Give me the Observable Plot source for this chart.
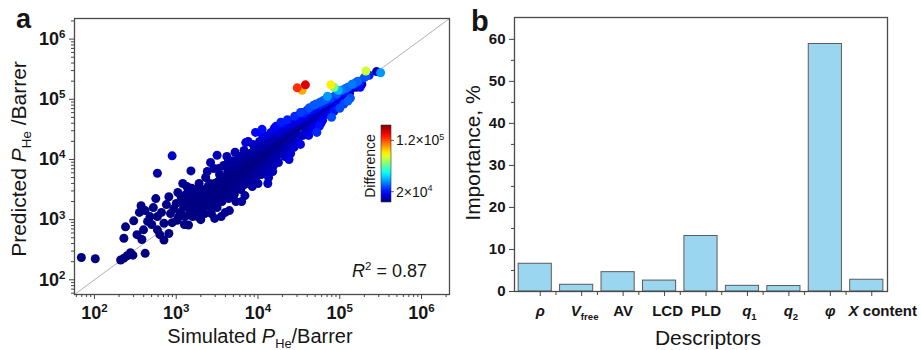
<!DOCTYPE html>
<html><head><meta charset="utf-8">
<script src="https://cdn.jsdelivr.net/npm/d3@7"></script>
<script src="https://cdn.jsdelivr.net/npm/@observablehq/plot@0.6"></script>
<style>
html,body{margin:0;padding:0;background:#fff;}
#wrap{position:relative;width:921px;height:350px;overflow:hidden;}
</style></head><body><div id="wrap"></div>
<script>
const FONT = '"Liberation Sans", Arial, Helvetica, sans-serif';

// ---------- data: panel a (log10 of simulated, log10 of predicted He permeability, Barrer) ----------
const axisDomain = [57, 2.2e6];
const decades = [2, 3, 4, 5, 6];
const scatterLog = [
 [1.84,2.37],[2.01,2.35],[2.32,2.33],[2.36,2.36],[2.40,2.40],[2.47,2.41],[2.62,2.44],[2.44,2.45],
 [2.38,2.88],[2.36,2.69],[2.48,2.98],[2.52,2.75],[2.58,2.67],[2.60,2.83],[2.65,2.97],[2.57,3.23],
 [2.62,3.15],[2.68,3.05],[2.75,3.35],[2.72,3.20],[2.77,3.05],[2.77,2.83],[2.80,2.75],[2.85,2.66],
 [2.85,2.94],[2.91,2.77],[2.93,3.10],[2.91,3.38],[2.77,3.77],[2.95,4.06],[2.88,3.25],[2.82,3.12],
 [2.70,2.92],[2.95,2.95],[2.55,3.12],
 [3.00,3.27],[3.01,2.99],[3.05,3.12],[3.07,3.30],[3.10,2.92],[3.12,3.42],[3.15,2.91],[3.16,3.20],
 [3.18,3.81],[3.20,3.05],[3.22,3.35],[3.24,3.50],[3.25,3.15],[3.27,3.27],[3.28,3.60],[3.30,3.00],
 [3.30,3.42],[3.02,3.45],[3.08,3.60],[3.13,3.55],[3.18,3.40],[3.26,3.05],[3.20,3.25],
 [2.97,3.18],[3.03,3.05],[3.06,3.38],[3.09,3.20],[3.11,3.05],[3.14,3.30],[3.17,3.12],[3.19,3.52],
 [3.21,3.18],[3.23,3.42],[3.26,3.35],[3.29,3.18],[3.29,3.50],
 [3.32,3.15],[3.34,3.33],[3.35,3.50],[3.36,3.70],[3.38,3.25],[3.40,3.42],[3.41,3.60],[3.43,3.10],
 [3.44,3.30],[3.45,3.52],[3.46,3.85],[3.48,3.40],[3.50,3.20],[3.50,3.62],[3.52,3.35],[3.53,3.75],
 [3.55,3.48],[3.56,3.30],[3.57,3.60],[3.58,3.90],[3.60,3.42],[3.60,3.12],[3.42,3.95],[3.47,3.02],
 [3.55,3.05],[3.50,4.07],[3.62,4.05],
 [3.31,3.28],[3.33,3.45],[3.35,3.10],[3.37,3.38],[3.39,3.55],[3.41,3.22],[3.43,3.47],[3.45,3.38],
 [3.47,3.60],[3.49,3.28],[3.51,3.50],[3.53,3.42],[3.54,3.65],[3.56,3.55],[3.58,3.38],[3.59,3.70],
 [3.38,3.80],[3.52,3.85],
 [3.62,3.70],[3.63,3.55],[3.64,3.35],[3.66,3.82],[3.67,3.60],[3.68,3.45],[3.70,3.98],[3.70,3.70],
 [3.72,3.50],[3.73,3.30],[3.74,3.85],[3.75,3.62],[3.77,4.05],[3.78,3.75],[3.79,3.50],[3.80,3.88],
 [3.82,3.65],[3.83,4.15],[3.84,3.40],[3.85,3.80],[3.87,3.95],[3.88,3.60],[3.90,4.10],[3.90,3.75],
 [3.65,3.15],[3.80,3.30],[3.72,4.12],[3.85,4.28],[3.88,4.30],
 [3.61,3.55],[3.63,3.80],[3.65,3.48],[3.66,3.65],[3.68,3.90],[3.69,3.58],[3.71,3.42],[3.72,3.78],
 [3.74,3.68],[3.75,3.95],[3.76,3.52],[3.77,3.85],[3.79,3.68],[3.80,4.00],[3.81,3.78],[3.83,3.58],
 [3.84,3.92],[3.86,3.70],[3.87,4.08],[3.89,3.85],[3.64,3.98],
 [3.92,3.90],[3.93,3.55],[3.94,4.25],[3.95,4.00],[3.96,3.70],[3.98,4.15],[3.99,3.85],[4.00,3.60],
 [4.02,4.30],[4.03,4.05],[4.04,3.75],[4.06,3.95],[4.07,4.20],[4.08,4.40],[4.10,3.85],[4.10,4.10],
 [4.12,4.30],[4.13,3.70],[4.15,4.00],[4.16,4.45],[4.17,4.20],[4.19,3.90],[4.20,4.10],[4.20,4.35],
 [4.05,4.50],[3.97,4.45],[4.12,3.60],[4.18,3.80],
 [3.91,3.65],[3.92,4.05],[3.94,3.80],[3.95,4.15],[3.97,3.95],[3.98,3.72],[4.00,4.08],[4.01,3.90],
 [4.02,4.20],[4.04,3.85],[4.05,4.12],[4.07,3.98],[4.08,4.28],[4.09,3.78],[4.11,4.20],[4.12,3.95],
 [4.14,4.12],[4.15,4.35],[4.16,3.85],[4.18,4.05],[4.19,4.25],[4.21,4.00],[4.20,4.52],[4.05,4.42],
 [4.22,4.55],[4.23,4.25],[4.25,3.95],[4.26,4.40],[4.28,4.15],[4.30,4.60],[4.31,4.35],[4.33,4.05],
 [4.34,4.50],[4.36,4.66],[4.37,4.25],[4.39,4.45],[4.40,4.10],[4.42,4.60],[4.43,4.35],[4.45,4.72],
 [4.46,4.25],[4.47,4.50],[4.49,4.65],[4.50,4.40],[4.28,4.62],[4.44,4.20],[4.52,4.25],[4.38,4.00],
 [4.22,4.18],[4.24,4.45],[4.25,4.08],[4.27,4.30],[4.29,4.50],[4.30,4.20],[4.32,4.42],[4.33,4.15],
 [4.35,4.58],[4.36,4.35],[4.38,4.18],[4.40,4.50],[4.41,4.30],[4.43,4.62],[4.44,4.45],[4.46,4.35],
 [4.48,4.58],[4.49,4.30],[4.50,4.68],
 [4.52,4.78],[4.54,4.55],[4.55,4.78],[4.57,4.70],[4.58,4.45],[4.60,4.82],[4.62,4.60],[4.63,4.86],
 [4.65,4.75],[4.66,4.50],[4.68,4.90],[4.70,4.65],[4.71,4.92],[4.73,4.80],[4.75,4.55],[4.76,4.95],
 [4.78,4.70],[4.80,4.98],[4.80,4.85],[4.62,4.40],[4.72,4.45],[4.77,4.60],
 [4.53,4.62],[4.55,4.40],[4.56,4.75],[4.58,4.58],[4.60,4.68],[4.61,4.50],[4.63,4.72],[4.64,4.62],
 [4.66,4.82],[4.67,4.58],[4.69,4.75],[4.70,4.55],[4.72,4.85],[4.74,4.68],[4.75,4.90],[4.77,4.78],
 [4.79,4.65],[4.80,4.92],
 [4.82,4.95],[4.85,5.05],[4.85,4.75],[4.87,4.98],[4.88,4.90],[4.90,5.02],[4.92,4.85],[4.94,5.05],
 [4.96,5.08],[4.97,4.95],[4.98,5.15],[5.00,5.05],[5.02,5.15],[5.03,4.95],[5.05,5.12],[5.07,5.18],
 [5.08,5.05],[5.10,5.20],[4.90,4.70],[5.00,4.85],[5.05,4.92],[5.10,4.97],[5.13,5.02],[4.98,4.88],
 [4.82,4.80],[4.83,5.00],[4.86,4.88],[4.88,5.02],[4.91,4.95],[4.93,4.80],[4.95,5.00],[4.97,5.10],
 [4.99,4.95],[5.01,5.08],[5.04,5.02],[5.06,5.14],[5.09,5.10],[5.11,5.15],[5.14,5.18],[5.18,5.22],
 [5.20,5.28],
 [5.12,5.10],[5.15,5.25],[5.17,5.25],[5.20,5.20],[5.22,5.30],[5.25,5.30],[5.27,5.25],[5.30,5.36],
 [5.32,5.38],[5.36,5.40],[5.45,5.46],[5.25,5.20],
 [4.48,5.19],[4.58,5.24],[4.54,5.15],[4.89,5.24],[4.93,5.20],[5.32,5.47],[5.50,5.44]
];
const colorDomain = [0, 1.5e5];
const colorbarTicks = [1.2e5, 2e4];
const r2Value = "0.87";

// ---------- data: panel b ----------
const descriptors = ["ρ", "Vfree", "AV", "LCD", "PLD", "q1", "q2", "φ", "X content"];
const importance = [6.6, 1.6, 4.6, 2.6, 13.2, 1.35, 1.3, 58.9, 2.8];
const importanceTicks = [0, 10, 20, 30, 40, 50, 60];
const importanceMinor = [5, 15, 25, 35, 45, 55];

// ---------- helpers ----------
const jetStops = d3.scaleLinear()
  .domain([0, 0.125, 0.375, 0.625, 0.875, 1])
  .range(["#00007f", "#0000ff", "#00ffff", "#ffff00", "#ff0000", "#7f0000"])
  .interpolate(d3.interpolateRgb).clamp(true);
const jet = t => jetStops(t);

function rich(node, parts, fs) {
  const t = d3.select(node);
  t.text(null);
  let shift = 0;
  parts.forEach(p => {
    const span = t.append("tspan").text(p.t);
    const target = p.sub ? 0.23 * fs : p.sup ? -0.38 * fs : 0;
    if (target !== shift) { span.attr("dy", (target - shift).toFixed(2)); shift = target; }
    if (p.sub || p.sup) span.attr("font-size", (0.64 * fs).toFixed(1));
    if (p.i) span.attr("font-style", "italic");
  });
}
function addText(svg, {x, y, rotate, size, weight, anchor = "middle", parts}) {
  const t = svg.append("text")
    .attr("transform", `translate(${x},${y})` + (rotate ? ` rotate(${rotate})` : ""))
    .attr("text-anchor", anchor).attr("font-size", size).attr("fill", "#151515")
    .attr("font-family", FONT);
  if (weight) t.attr("font-weight", weight);
  rich(t.node(), parts, size);
  return t;
}

// ---------- panel a ----------
const pts = scatterLog
  .map(([a, b]) => ({sim: 10 ** a, pred: 10 ** b}))
  .map(d => ({...d, diff: Math.abs(d.pred - d.sim)}))
  .sort((p, q) => p.diff - q.diff);
const majors = decades.map(d => 10 ** d);
const minors = [];
for (let e = 1; e <= 6; e++) for (let k = 2; k <= 9; k++) {
  const v = k * 10 ** e;
  if (v >= axisDomain[0] && v <= axisDomain[1]) minors.push(v);
}
const expFmt = d => "10^" + Math.round(Math.log10(d));

const plotA = Plot.plot({
  width: 460, height: 350,
  marginLeft: 74, marginRight: 11, marginTop: 18, marginBottom: 56,
  style: {fontFamily: FONT, color: "#151515", background: "transparent", overflow: "visible"},
  x: {type: "log", domain: axisDomain},
  y: {type: "log", domain: axisDomain},
  color: {type: "linear", domain: colorDomain, interpolate: jet, clamp: true},
  marks: [
    Plot.line(axisDomain.map(v => ({v})), {x: "v", y: "v", stroke: "#9a9a9a", strokeWidth: 0.8}),
    Plot.dot(pts, {x: "sim", y: "pred", fill: "diff", r: 4.5}),
    Plot.frame({stroke: "#4a4a4a", strokeWidth: 1.3}),
    Plot.axisX({ticks: majors, tickSize: 5, tickPadding: 7, tickFormat: expFmt, label: null, stroke: "#444"}),
    Plot.axisX({ticks: minors, tickSize: 3, fill: "none", tickFormat: () => "", label: null, stroke: "#444"}),
    Plot.axisY({ticks: majors, tickSize: 5, tickPadding: 4, tickFormat: expFmt, label: null, stroke: "#444"}),
    Plot.axisY({ticks: minors, tickSize: 3, fill: "none", tickFormat: () => "", label: null, stroke: "#444"})
  ]
});
plotA.style.position = "absolute"; plotA.style.left = "0px"; plotA.style.top = "0px";
const svgA = d3.select(plotA);
svgA.selectAll("text").each(function () {
  const m = /^10\^(\d)$/.exec(this.textContent);
  if (m) {
    d3.select(this).attr("font-weight", "bold").attr("font-size", 18).attr("fill", "#151515");
    rich(this, [{t: "10"}, {t: m[1], sup: true}], 18);
  }
});
addText(svgA, {x: 26, y: 159, rotate: -90, size: 21,
  parts: [{t: "Predicted "}, {t: "P", i: true}, {t: "He", sub: true}, {t: " /Barrer"}]});
addText(svgA, {x: 260, y: 343, size: 20,
  parts: [{t: "Simulated "}, {t: "P", i: true}, {t: "He", sub: true}, {t: "/Barrer"}]});
addText(svgA, {x: 352, y: 277, size: 18, anchor: "start",
  parts: [{t: "R", i: true}, {t: "2", sup: true}, {t: " = " + r2Value}]});
addText(svgA, {x: 16, y: 28, size: 27, weight: "bold", anchor: "start", parts: [{t: "a"}]});

// colorbar (legend of the color scale)
const colorScale = plotA.scale("color");
const cb = {x: 381, y: 125, w: 10, h: 77};
const cbY = d3.scaleLinear().domain(colorDomain).range([cb.y + cb.h, cb.y]);
const grad = svgA.append("defs").append("linearGradient").attr("id", "jetgrad")
  .attr("x1", 0).attr("y1", 1).attr("x2", 0).attr("y2", 0);
d3.range(0, 1.0001, 0.05).forEach(t => {
  const v = colorDomain[0] + t * (colorDomain[1] - colorDomain[0]);
  grad.append("stop").attr("offset", t.toFixed(2)).attr("stop-color", colorScale.apply(v));
});
svgA.append("rect").attr("x", cb.x).attr("y", cb.y).attr("width", cb.w).attr("height", cb.h)
  .attr("fill", "url(#jetgrad)").attr("stroke", "#333").attr("stroke-width", 0.6);
colorbarTicks.forEach(v => {
  svgA.append("line").attr("x1", cb.x + cb.w).attr("x2", cb.x + cb.w + 3)
    .attr("y1", cbY(v)).attr("y2", cbY(v)).attr("stroke", "#333").attr("stroke-width", 0.8);
  const e = Math.floor(Math.log10(v));
  const mant = +(v / 10 ** e).toFixed(2);
  addText(svgA, {x: cb.x + cb.w + 5, y: cbY(v) + 5, size: 14, anchor: "start",
    parts: [{t: mant + "×10"}, {t: String(e), sup: true}]});
});
addText(svgA, {x: 375, y: 166, rotate: -90, size: 14, parts: [{t: "Difference"}]});

// ---------- panel b ----------
const rows = descriptors.map((name, i) => ({i, name, value: importance[i]}));
const plotB = Plot.plot({
  width: 461, height: 350,
  marginLeft: 54, marginRight: 34, marginTop: 17, marginBottom: 59,
  style: {fontFamily: FONT, color: "#151515", background: "transparent", overflow: "visible"},
  x: {type: "linear", domain: [-0.5, descriptors.length - 0.5]},
  y: {domain: [0, 65.2]},
  marks: [
    Plot.rect(rows, {x1: d => d.i - 0.4, x2: d => d.i + 0.4, y1: () => 0, y2: "value",
      fill: "#9bd6f1", stroke: "#5a5a5a", strokeWidth: 1}),
    Plot.frame({stroke: "#4a4a4a", strokeWidth: 1.3}),
    Plot.axisX({ticks: rows.map(d => d.i), tickSize: 5, tickPadding: 9, dx: 5,
      tickFormat: i => descriptors[i], label: null, stroke: "#444"}),
    Plot.axisX({ticks: rows.slice(1).map(d => d.i - 0.5), tickSize: 4, fill: "none",
      tickFormat: () => "", label: null, stroke: "#444"}),
    Plot.axisY({ticks: importanceTicks, tickSize: 5, tickPadding: 4, label: null, stroke: "#444"}),
    Plot.axisY({ticks: importanceMinor, tickSize: 3, fill: "none", tickFormat: () => "", label: null, stroke: "#444"})
  ]
});
plotB.style.position = "absolute"; plotB.style.left = "460px"; plotB.style.top = "0px";
const svgB = d3.select(plotB);
const richLabels = {
  "ρ": {parts: [{t: "ρ", i: true}], shift: 0},
  "Vfree": {parts: [{t: "V", i: true}, {t: "free", sub: true}], shift: 3},
  "AV": {parts: [{t: "AV"}], shift: 0},
  "LCD": {parts: [{t: "LCD"}], shift: 3},
  "PLD": {parts: [{t: "PLD"}], shift: 0},
  "q1": {parts: [{t: "q", i: true}, {t: "1", sub: true}], shift: 2},
  "q2": {parts: [{t: "q", i: true}, {t: "2", sub: true}], shift: 2},
  "φ": {parts: [{t: "φ", i: true}], shift: 0},
  "X content": {parts: [{t: "X", i: true}, {t: " content"}], shift: 11}
};
svgB.selectAll("text").each(function () {
  const s = this.textContent;
  const sel = d3.select(this);
  if (richLabels[s]) {
    const r = richLabels[s];
    sel.attr("font-weight", "bold").attr("font-size", 15).attr("fill", "#151515");
    if (r.shift) sel.attr("x", (+sel.attr("x") || 0) + r.shift);
    rich(this, r.parts, 15);
  } else if (/^\d+$/.test(s)) {
    sel.attr("font-weight", "bold").attr("font-size", 15).attr("fill", "#151515");
  }
});
addText(svgB, {x: 20, y: 153, rotate: -90, size: 21, parts: [{t: "Importance, %"}]});
addText(svgB, {x: 248, y: 345, size: 21, parts: [{t: "Descriptors"}]});
addText(svgB, {x: 11, y: 31, size: 29, weight: "bold", anchor: "start", parts: [{t: "b"}]});

const wrap = document.getElementById("wrap");
wrap.appendChild(plotA);
wrap.appendChild(plotB);
</script>
</body></html>
